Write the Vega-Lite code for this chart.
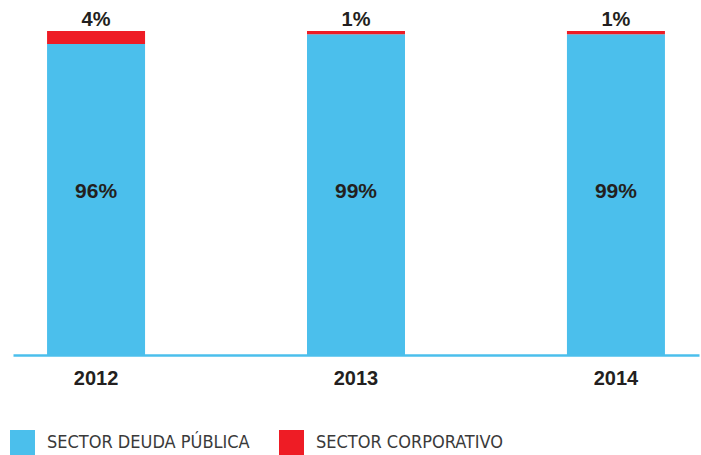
{
  "$schema": "https://vega.github.io/schema/vega-lite/v6.json",
  "width": 686,
  "height": 324,
  "autosize": {"type": "none"},
  "padding": {"left": 13, "top": 31, "right": 2, "bottom": 100},
  "background": "white",
  "config": {"view": {"stroke": null}},
  "data": {"values": [
    {"year": "2012", "sector": "SECTOR DEUDA PÚBLICA", "share": 0.96},
    {"year": "2012", "sector": "SECTOR CORPORATIVO", "share": 0.04},
    {"year": "2013", "sector": "SECTOR DEUDA PÚBLICA", "share": 0.99},
    {"year": "2013", "sector": "SECTOR CORPORATIVO", "share": 0.01},
    {"year": "2014", "sector": "SECTOR DEUDA PÚBLICA", "share": 0.99},
    {"year": "2014", "sector": "SECTOR CORPORATIVO", "share": 0.01}
  ]},
  "encoding": {
    "x": {
      "field": "year", "type": "nominal",
      "scale": {"paddingInner": 0.623, "paddingOuter": 0.131},
      "axis": {
        "title": null, "ticks": false, "labelAngle": 0,
        "domainColor": "#4BBFEC", "domainWidth": 2.5,
        "labelFont": "Liberation Sans", "labelFontWeight": "bold",
        "labelFontSize": 20, "labelColor": "#231F20",
        "labelBaseline": "middle", "labelPadding": 23
      }
    }
  },
  "layer": [
    {
      "mark": {"type": "bar"},
      "encoding": {
        "y": {"field": "share", "type": "quantitative", "stack": "zero",
              "scale": {"domain": [0, 1], "nice": false}, "axis": null},
        "color": {
          "field": "sector", "type": "nominal",
          "scale": {"domain": ["SECTOR DEUDA PÚBLICA", "SECTOR CORPORATIVO"], "range": ["#4BBFEC", "#EE1C25"]},
          "legend": {
            "title": null, "orient": "none", "direction": "horizontal",
            "legendX": -3, "legendY": 399,
            "symbolType": "square", "symbolSize": 625, "symbolStrokeWidth": 0,
            "labelFont": "DejaVu Sans Condensed, Roboto, sans-serif", "labelFontSize": 18,
            "labelColor": "#3a3a3a", "labelOffset": 12, "columnPadding": 29,
            "labelLimit": 400
          }
        },
        "order": {"field": "sector", "sort": "descending"}
      }
    },
    {
      "transform": [{"filter": "datum.sector === 'SECTOR DEUDA PÚBLICA'"}],
      "mark": {"type": "text", "font": "Liberation Sans", "fontWeight": "bold", "fontSize": 21, "color": "#231F20", "baseline": "middle"},
      "encoding": {
        "y": {"datum": 0.503},
        "text": {"field": "share", "type": "quantitative", "format": ".0%"}
      }
    },
    {
      "transform": [{"filter": "datum.sector === 'SECTOR CORPORATIVO'"}],
      "mark": {"type": "text", "font": "Liberation Sans", "fontWeight": "bold", "fontSize": 20, "color": "#231F20", "baseline": "middle"},
      "encoding": {
        "y": {"datum": 1.035},
        "text": {"field": "share", "type": "quantitative", "format": ".0%"}
      }
    }
  ]
}
